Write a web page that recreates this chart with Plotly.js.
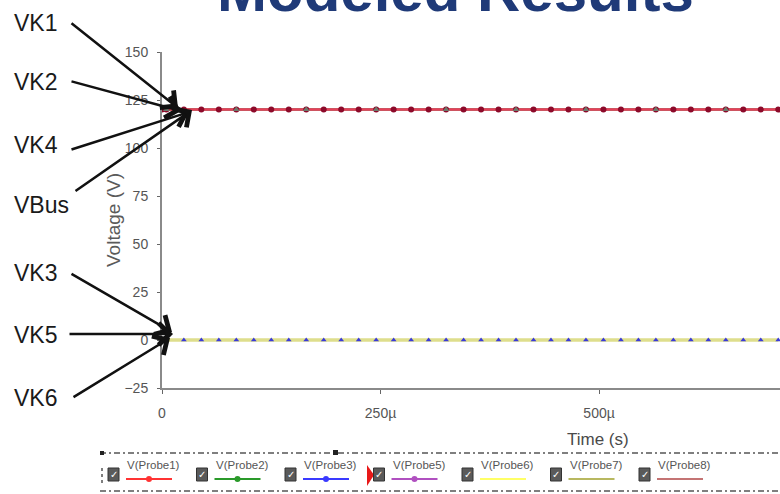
<!DOCTYPE html>
<html>
<head>
<meta charset="utf-8">
<script src="https://cdn.plot.ly/plotly-3.0.1.min.js"></script>
<style>html,body{margin:0;padding:0;background:#fff;}#chart{width:780px;height:494px;}</style>
</head>
<body>
<div id="chart"></div>
<script>
// ---- data (time in microseconds, voltage in volts) ----
const timeUs = [0, 5, 25, 45, 65, 85, 105, 125, 145, 165, 185, 205, 225, 245, 265, 285, 305, 325, 345, 365, 385, 405, 425, 445, 465, 485, 505, 525, 545, 565, 585, 605, 625, 645, 665, 685, 705];
const vProbe1 = [120, 120, 120, 120, 120, 120, 120, 120, 120, 120, 120, 120, 120, 120, 120, 120, 120, 120, 120, 120, 120, 120, 120, 120, 120, 120, 120, 120, 120, 120, 120, 120, 120, 120, 120, 120, 120];
const vProbe2 = [120, 120, 120, 120, 120, 120, 120, 120, 120, 120, 120, 120, 120, 120, 120, 120, 120, 120, 120, 120, 120, 120, 120, 120, 120, 120, 120, 120, 120, 120, 120, 120, 120, 120, 120, 120, 120];
const vProbe5 = [120, 120, 120, 120, 120, 120, 120, 120, 120, 120, 120, 120, 120, 120, 120, 120, 120, 120, 120, 120, 120, 120, 120, 120, 120, 120, 120, 120, 120, 120, 120, 120, 120, 120, 120, 120, 120];
const vProbe8 = [120, 120, 120, 120, 120, 120, 120, 120, 120, 120, 120, 120, 120, 120, 120, 120, 120, 120, 120, 120, 120, 120, 120, 120, 120, 120, 120, 120, 120, 120, 120, 120, 120, 120, 120, 120, 120];
const vProbe3 = [0, 0, 0, 0, 0, 0, 0, 0, 0, 0, 0, 0, 0, 0, 0, 0, 0, 0, 0, 0, 0, 0, 0, 0, 0, 0, 0, 0, 0, 0, 0, 0, 0, 0, 0, 0, 0];
const vProbe6 = [0, 0, 0, 0, 0, 0, 0, 0, 0, 0, 0, 0, 0, 0, 0, 0, 0, 0, 0, 0, 0, 0, 0, 0, 0, 0, 0, 0, 0, 0, 0, 0, 0, 0, 0, 0, 0];
const vProbe7 = [0, 0, 0, 0, 0, 0, 0, 0, 0, 0, 0, 0, 0, 0, 0, 0, 0, 0, 0, 0, 0, 0, 0, 0, 0, 0, 0, 0, 0, 0, 0, 0, 0, 0, 0, 0, 0];
const probe2MarkTimeUs = [5, 85, 165, 245, 325, 405, 485, 565, 645];
const probe2MarkV = [120, 120, 120, 120, 120, 120, 120, 120, 120];

const xTickVals = [0, 250, 500];
const xTickText = ['0', '250\u00b5', '500\u00b5'];
const yTickVals = [-25, 0, 25, 50, 75, 100, 125, 150];

const legendNames = ['V(Probe1)', 'V(Probe2)', 'V(Probe3)', 'V(Probe5)', 'V(Probe6)', 'V(Probe7)', 'V(Probe8)'];
const topLabels = ['VK1', 'VK2', 'VK4', 'VBus'];
const bottomLabels = ['VK3', 'VK5', 'VK6'];

// ---- styling ----
const C = {
  red: '#e8405a', redDot: '#8c0a2a', green: '#2f9a2f', greyMark: '#6d7a6d',
  blue: '#3a3ad8', purple: '#b050c0', yellow: '#dede8c', olive: '#b8b860', brown: '#c47070'
};
const legendColors = ['#ff3333', '#2a9a2a', '#3a3aff', '#b050c0', '#ffff66', '#b8b860', '#c47474'];
const legendHasDot = [true, true, true, true, false, false, false];
const SANS = '"Liberation Sans", Arial, sans-serif';

const L = 162, T = 52, PW = 618, PH = 336;
const px = x => (x - L) / PW;
const py = y => (T + PH - y) / PH;

const traces = [
  {x: timeUs, y: vProbe8, mode: 'lines', line: {color: C.brown, width: 2}},
  {x: timeUs, y: vProbe5, mode: 'lines', line: {color: C.purple, width: 2}},
  {x: timeUs, y: vProbe2, mode: 'lines', line: {color: C.green, width: 2}},
  {x: timeUs, y: vProbe1, mode: 'lines+markers', line: {color: C.red, width: 2.5},
   marker: {color: C.redDot, size: 6, symbol: 'circle'}},
  {x: probe2MarkTimeUs, y: probe2MarkV, mode: 'markers',
   marker: {color: C.greyMark, size: 6, symbol: 'triangle-up'}},
  {x: timeUs, y: vProbe7, mode: 'lines', line: {color: C.olive, width: 2}},
  {x: timeUs, y: vProbe3, mode: 'lines', line: {color: C.blue, width: 1}},
  {x: timeUs, y: vProbe6, mode: 'lines', line: {color: C.yellow, width: 3.5}},
  {x: timeUs, y: vProbe3, mode: 'markers', marker: {color: C.blue, size: 5, symbol: 'triangle-up'}}
];

const annotations = [];
const shapes = [];

// title (cropped at top, as in the reference)
annotations.push({xref: 'paper', yref: 'paper', x: px(455), y: py(-9), xanchor: 'center', yanchor: 'middle',
  text: '<b>Modeled Results</b>', showarrow: false, font: {family: SANS, size: 60, color: '#1f3a78'}});

// axis titles
annotations.push({xref: 'paper', yref: 'paper', x: px(598), y: py(440), xanchor: 'center', yanchor: 'middle',
  text: 'Time (s)', showarrow: false, font: {family: SANS, size: 17, color: '#4a4a4a'}});
annotations.push({xref: 'paper', yref: 'paper', x: px(113), y: py(220), xanchor: 'center', yanchor: 'middle',
  text: 'Voltage (V)', textangle: -90, showarrow: false, font: {family: SANS, size: 19, color: '#5a5a5a'}});

// left labels + arrows
const topLabelY = [23, 82, 145, 205];
const topTails = [[70, 22], [70, 81], [70, 150], [74, 192]];
const topTips = [[178, 108], [181, 111], [189, 112], [192, 110]];
const botLabelY = [273, 335, 398];
const botTails = [[70, 273], [68, 334], [72, 398]];
const botTips = [[172, 332], [173, 334], [170, 338]];
function addLabel(text, y) {
  annotations.push({xref: 'paper', yref: 'paper', x: px(12), y: py(y), xanchor: 'left', yanchor: 'middle',
    text: text, showarrow: false, font: {family: SANS, size: 23, color: '#1a1a1a'}});
}
function addArrow(tail, tip) {
  annotations.push({xref: 'paper', yref: 'paper', x: px(tip[0]), y: py(tip[1]), text: '',
    showarrow: true, arrowhead: 4, arrowsize: 1.7, arrowwidth: 2.5, arrowcolor: '#111',
    ax: tail[0] - tip[0], ay: tail[1] - tip[1], standoff: 0, startstandoff: 0});
}
topLabels.forEach((t, i) => { addLabel(t, topLabelY[i]); addArrow(topTails[i], topTips[i]); });
bottomLabels.forEach((t, i) => { addLabel(t, botLabelY[i]); addArrow(botTails[i], botTips[i]); });

// custom legend strip
const dash = '6px,3px,2px,3px';
shapes.push({type: 'line', xref: 'paper', yref: 'paper', x0: px(100), x1: px(780), y0: py(453), y1: py(453),
  line: {color: '#555', width: 1.5, dash: dash}});
shapes.push({type: 'line', xref: 'paper', yref: 'paper', x0: px(100), x1: px(780), y0: py(491), y1: py(491),
  line: {color: '#555', width: 1.5, dash: dash}});
shapes.push({type: 'line', xref: 'paper', yref: 'paper', x0: px(102), x1: px(102), y0: py(468), y1: py(486),
  line: {color: '#555', width: 1.5, dash: '3px,3px'}});
shapes.push({type: 'rect', xref: 'paper', yref: 'paper', x0: px(100), x1: px(104), y0: py(455), y1: py(451),
  fillcolor: '#222', line: {width: 0}});
shapes.push({type: 'rect', xref: 'paper', yref: 'paper', x0: px(333), x1: px(338), y0: py(455), y1: py(450),
  fillcolor: '#222', line: {width: 0}});
shapes.push({type: 'path', xref: 'paper', yref: 'paper',
  path: `M ${px(367)} ${py(465)} L ${px(374)} ${py(475)} L ${px(367)} ${py(486)} Z`,
  fillcolor: '#e81818', line: {width: 0}});
legendNames.forEach((name, i) => {
  const x0 = 108 + i * 88.5;
  shapes.push({type: 'rect', xref: 'paper', yref: 'paper', x0: px(x0), x1: px(x0 + 11), y0: py(468), y1: py(481),
    fillcolor: '#5a5a5a', line: {color: '#333', width: 1}});
  annotations.push({xref: 'paper', yref: 'paper', x: px(x0 + 5.5), y: py(474.5), xanchor: 'center', yanchor: 'middle',
    text: '\u2713', showarrow: false, font: {family: 'DejaVu Sans', size: 10, color: '#fff'}});
  annotations.push({xref: 'paper', yref: 'paper', x: px(x0 + 17), y: py(465), xanchor: 'left', yanchor: 'middle',
    text: name, showarrow: false, font: {family: SANS, size: 11.5, color: '#555'}});
  shapes.push({type: 'line', xref: 'paper', yref: 'paper', x0: px(x0 + 18), x1: px(x0 + 64), y0: py(479), y1: py(479),
    line: {color: legendColors[i], width: 2}});
  if (legendHasDot[i]) {
    shapes.push({type: 'circle', xref: 'paper', yref: 'paper', x0: px(x0 + 38), x1: px(x0 + 44), y0: py(476), y1: py(482),
      fillcolor: legendColors[i], line: {width: 0}});
  }
});

const layout = {
  width: 780, height: 494,
  margin: {l: L, r: 780 - L - PW, t: T, b: 494 - T - PH, pad: 0},
  paper_bgcolor: '#fff', plot_bgcolor: '#fff',
  showlegend: false,
  xaxis: {range: [0, 707], tickvals: xTickVals, ticktext: xTickText, showline: true, linecolor: '#8a8a8a', linewidth: 2,
    ticks: 'outside', ticklen: 4, tickcolor: '#666', showgrid: false, zeroline: false, ticklabelstandoff: 7,
    tickfont: {family: SANS, size: 14, color: '#555'}},
  yaxis: {range: [-25, 150], tickvals: yTickVals, showline: true, linecolor: '#8a8a8a', linewidth: 2,
    ticks: 'outside', ticklen: 3, tickcolor: '#666', showgrid: false, zeroline: false, ticklabelstandoff: 6,
    tickfont: {family: SANS, size: 14, color: '#555'}},
  annotations: annotations,
  shapes: shapes
};

Plotly.newPlot('chart', traces, layout, {staticPlot: true, displayModeBar: false});
</script>
</body>
</html>
